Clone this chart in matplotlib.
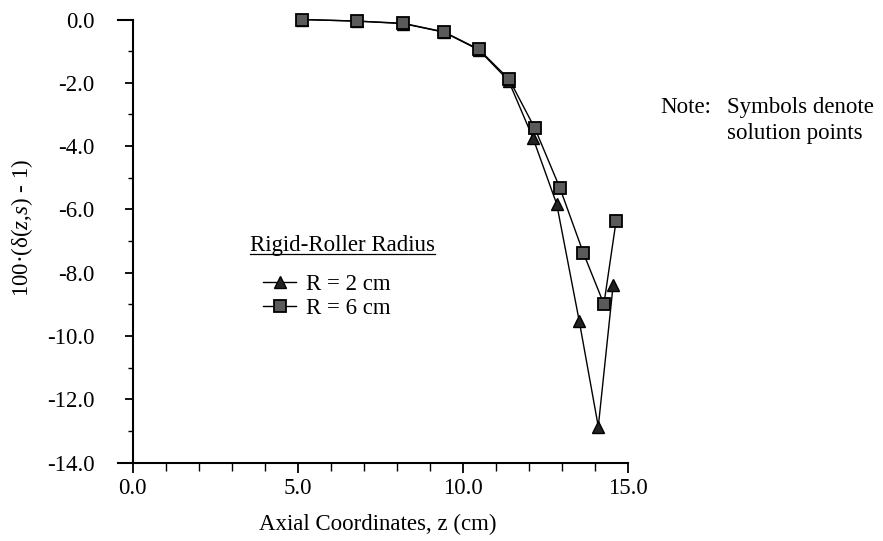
import matplotlib
matplotlib.use("Agg")
import matplotlib.pyplot as plt
from matplotlib.lines import Line2D

plt.rcParams['font.family'] = ['Liberation Serif', 'DejaVu Serif']
plt.rcParams['mathtext.fontset'] = 'custom'
plt.rcParams['mathtext.rm'] = 'Liberation Serif'
plt.rcParams['mathtext.it'] = 'Liberation Serif:italic'

# ---- data ----
z_r2 = [5.11, 6.78, 8.19, 9.42, 10.48, 11.38, 12.12, 12.84, 13.52, 14.10, 14.55]
d_r2 = [0.0, -0.05, -0.13, -0.40, -0.96, -1.93, -3.74, -5.83, -9.51, -12.86, -8.39]
z_r6 = [5.11, 6.78, 8.19, 9.42, 10.48, 11.40, 12.18, 12.94, 13.65, 14.27, 14.64]
d_r6 = [0.0, -0.05, -0.12, -0.39, -0.94, -1.89, -3.44, -5.33, -7.38, -8.99, -6.36]
series_labels = ["R = 2 cm", "R = 6 cm"]
legend_title = "Rigid-Roller Radius"
x_ticks = [0, 5, 10, 15]
x_tick_labels = ["0.0", "5.0", "10.0", "15.0"]
y_ticks = [0, -2, -4, -6, -8, -10, -12, -14]
y_tick_labels = ["0.0", "-2.0", "-4.0", "-6.0", "-8.0", "-10.0", "-12.0", "-14.0"]

W, H = 883, 541
fig = plt.figure(figsize=(W / 100, H / 100), dpi=100)
ax = fig.add_axes([118 / W, 78.3 / H, 510 / W, 443.2 / H])
ax.set_xlim(-0.45, 15)
ax.set_ylim(-14, 0)

fs = 16.5
ax.plot(z_r2, d_r2, color='black', lw=1.0, marker='^', ms=9,
        mfc='#222222', mec='black', clip_on=False, zorder=3, label=series_labels[0])
ax.plot(z_r6, d_r6, color='black', lw=1.0, marker='s', ms=8.3,
        mfc='#5a5a5a', mec='black', mew=1.3, clip_on=False, zorder=4, label=series_labels[1])

for s in ['top', 'right']:
    ax.spines[s].set_visible(False)
ax.spines['left'].set_position(('data', 0))
ax.spines['left'].set_linewidth(1.5)
ax.spines['bottom'].set_linewidth(1.5)

ax.set_xticks(x_ticks, x_tick_labels)
ax.set_xticks(range(0, 16), minor=True)
ax.set_yticks(y_ticks, y_tick_labels)
ax.set_yticks(range(-13, 0, 2), minor=True)
ax.tick_params(axis='x', which='major', direction='out', length=7.5, width=1.3,
               pad=3.5, labelsize=fs)
ax.tick_params(axis='x', which='minor', direction='out', length=5.5, width=1.0)
ax.tick_params(axis='y', which='major', direction='out', length=5.5, width=1.3,
               pad=22, labelsize=fs)
ax.tick_params(axis='y', which='minor', direction='out', length=3.5, width=1.0)

# extended top tick at 0.0
ax.plot([-0.45, 0], [0, 0], color='black', lw=1.5, clip_on=False, zorder=2)

ax.set_xlabel("Axial Coordinates, z (cm)", fontsize=fs, va='center')
ax.xaxis.set_label_coords(0.51, -0.14)
ax.set_ylabel(r"100·(δ($z$,$s$) - 1)", fontsize=fs, va='center')
ax.yaxis.set_label_coords(-0.188, 0.53)

leg = ax.legend(loc='upper left', bbox_to_anchor=(263 / W, 1 - 274 / H),
                bbox_transform=fig.transFigure, frameon=False, fontsize=fs,
                handlelength=1.45, handletextpad=0.42, labelspacing=0.12,
                borderpad=0, borderaxespad=0)

t = fig.text(342 / W, 1 - 245 / H, legend_title, fontsize=fs, ha='center', va='center')
fig.canvas.draw()
bb = t.get_window_extent()
fig.add_artist(Line2D([bb.x0 / W, bb.x1 / W], [(bb.y0 + 2) / H, (bb.y0 + 2) / H],
                      transform=fig.transFigure, color='black', lw=0.9))

fig.text(660 / W, 1 - 107 / H, "Note:", fontsize=fs, ha='left', va='center')
fig.text(727 / W, 1 - 107 / H, "Symbols denote", fontsize=fs, ha='left', va='center')
fig.text(727 / W, 1 - 133 / H, "solution points", fontsize=fs, ha='left', va='center')

fig.savefig("out.png", dpi=100)
